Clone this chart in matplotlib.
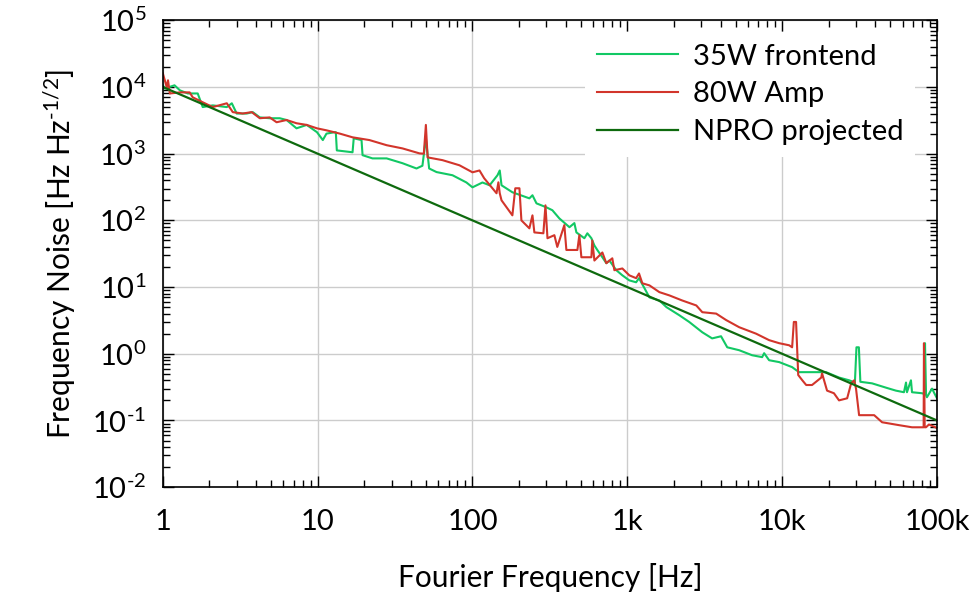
import matplotlib
matplotlib.use("Agg")
import matplotlib.pyplot as plt
from matplotlib.ticker import LogLocator, NullFormatter

# 35W frontend (frequency in Hz, noise in Hz/sqrt(Hz))
frontend_f = [1, 1.03, 1.19, 1.29, 1.45, 1.68, 1.81, 2.10, 2.59, 2.79, 3.0, 3.48, 3.81, 4.23,
              4.90, 5.69, 6.3, 7.3, 8.5, 9.9, 10.8, 11.4, 12.9, 13.1, 13.3, 16.8, 17.1, 19.2,
              19.5, 22.6, 27.9, 35.3, 43.5, 47.5, 50, 52.5, 58.6, 74.3, 91.4, 100, 116, 129,
              145, 150, 154, 181, 233, 244, 259, 300, 328, 364, 423, 455, 469, 528, 552, 586,
              613, 640, 690, 732, 766, 849, 929, 1030, 1140, 1190, 1230, 1390, 1610, 1790,
              2160, 2510, 3050, 3530, 4030, 4420, 5280, 6400, 7430, 7650, 8240, 9570, 11600,
              12300, 12900, 19200, 23300, 27100, 29500, 30200, 31300, 32000, 38100, 46900,
              54300, 61200, 63100, 64000, 67900, 69000, 80000, 82800, 83700, 85000, 86100,
              92900, 100000]
frontend_v = [1.06e4, 9.5e3, 1.06e4, 8.9e3, 8.0e3, 8.0e3, 5.0e3, 5.3e3, 5.0e3, 5.7e3, 4.0e3,
              4.0e3, 4.2e3, 3.5e3, 3.4e3, 3.4e3, 3.2e3, 2.4e3, 2.7e3, 2.1e3, 1.6e3, 2.0e3,
              2.1e3, 2.1e3, 1.12e3, 1.05e3, 1.7e3, 1.6e3, 950, 850, 850, 720, 600, 660, 1700,
              600, 530, 475, 370, 313, 370, 336, 475, 560, 336, 264, 214, 238, 180, 157, 142,
              107, 79, 91, 66, 54, 64, 54, 42, 36, 28, 22.8, 25, 17.9, 15, 12.6, 11.8, 13.6,
              11.8, 7.0, 6.3, 5.0, 3.8, 3.0, 2.1, 1.7, 1.83, 1.25, 1.13, 0.95, 0.89, 1.02,
              0.80, 0.75, 0.63, 0.57, 0.53, 0.53, 0.44, 0.40, 0.37, 1.25, 1.25, 0.38, 0.36,
              0.31, 0.28, 0.265, 0.37, 0.265, 0.40, 0.265, 0.256, 0.25, 1.44, 0.24, 0.223,
              0.30, 0.215]

# 80W amplifier
amp_f = [1, 1.03, 1.06, 1.08, 1.11, 1.29, 1.49, 1.56, 1.81, 2.10, 2.59, 2.83, 3.28, 3.75,
         4.23, 4.90, 5.43, 6.3, 7.3, 8.5, 9.9, 11.4, 13.9, 16.8, 21.6, 27.9, 35.3, 45.5, 48.5,
         50, 51.3, 64, 82.4, 100, 111, 119, 143, 147, 150, 154, 181, 189, 201, 207, 233, 244,
         251, 287, 296, 305, 338, 353, 392, 404, 476, 490, 505, 586, 594, 613, 690, 732, 800,
         825, 929, 1030, 1140, 1190, 1250, 1390, 1610, 1870, 2260, 2790, 3050, 3750, 4350,
         5280, 6790, 8240, 9570, 11100, 11600, 11900, 12300, 12700, 13500, 14300, 15600, 17900,
         18100, 19500, 21600, 23300, 26300, 27900, 29200, 30000, 31400, 39300, 44200, 56900,
         69000, 80000, 82000, 82400, 83300, 84900, 88800, 100000]
amp_v = [1.6e4, 1.26e4, 9.9e3, 1.26e4, 8.0e3, 8.3e3, 8.3e3, 7.0e3, 5.9e3, 5.0e3, 5.7e3, 4.2e3,
         4.0e3, 4.2e3, 3.4e3, 3.5e3, 2.96e3, 3.2e3, 2.86e3, 2.7e3, 2.4e3, 2.24e3, 2.0e3,
         1.76e3, 1.6e3, 1.34e3, 1.2e3, 1.01e3, 1.0e3, 2.7e3, 880, 800, 670, 526, 560, 428, 255,
         372, 255, 200, 119, 303, 303, 100, 76, 119, 66, 64, 168, 54, 60, 40, 85, 36, 36, 60, 28,
         28, 50, 25, 33, 22.8, 27, 17.9, 19, 15, 13.6, 16, 11.4, 10.6, 8.4, 7.5, 6.3, 5.3, 4.2,
         4.0, 3.2, 2.5, 2.0, 1.6, 1.44, 1.34, 1.25, 3.0, 3.0, 0.48, 0.40, 0.34, 0.34, 0.44,
         0.51, 0.28, 0.256, 0.20, 0.215, 0.36, 0.40, 0.30, 0.12, 0.12, 0.094, 0.085, 0.079,
         0.079, 0.079, 1.44, 0.079, 0.079, 0.087, 0.077]

# NPRO projected: straight 1/f line
npro_f = [1, 100000]
npro_v = [1.0e4, 0.1]

x_ticks = [1, 10, 100, 1000, 10000, 100000]
x_labels = ["1", "10", "100", "1k", "10k", "100k"]
y_ticks = [1e-2, 1e-1, 1e0, 1e1, 1e2, 1e3, 1e4, 1e5]
y_exps = ["\u20102", "\u20101", "0", "1", "2", "3", "4", "5"]
y_labels = [r"$\mathregular{10^{%s}}$" % e for e in y_exps]

plt.rcParams["font.family"] = ["Lato", "DejaVu Sans"]
plt.rcParams["mathtext.fontset"] = "custom"
plt.rcParams["mathtext.rm"] = "Lato"
plt.rcParams["axes.unicode_minus"] = False

fig = plt.figure(figsize=(9.75, 5.97), dpi=100)
ax = fig.add_axes([0.167, 0.184, 0.794, 0.782])

ax.plot(frontend_f, frontend_v, color="#12c864", lw=1.5, label="35W frontend")
ax.plot(amp_f, amp_v, color="#d2352b", lw=1.5, label="80W Amp")
ax.plot(npro_f, npro_v, color="#0e6a0e", lw=1.6, label="NPRO projected")

ax.set_xscale("log")
ax.set_yscale("log")
ax.set_xlim(1, 100000)
ax.set_ylim(1e-2, 1e5)

ax.set_xticks(x_ticks, x_labels)
ax.set_yticks(y_ticks, y_labels)
ax.xaxis.set_minor_locator(LogLocator(base=10, subs=range(2, 10), numticks=20))
ax.yaxis.set_minor_locator(LogLocator(base=10, subs=range(2, 10), numticks=20))
ax.xaxis.set_minor_formatter(NullFormatter())
ax.yaxis.set_minor_formatter(NullFormatter())

ax.tick_params(which="both", direction="in", top=True, right=True, width=1, color="black")
ax.tick_params(which="major", length=8, labelsize=21, pad=12)
ax.tick_params(which="minor", length=5)
ax.tick_params(axis="x", which="major", pad=16)

ax.grid(True, which="major", color="#cccccc", lw=1)
ax.set_axisbelow(True)
for s in ax.spines.values():
    s.set_linewidth(1.2)

ax.set_xlabel("Fourier Frequency [Hz]", fontsize=21.5, labelpad=20)
ax.set_ylabel("Frequency Noise [Hz Hz$\\mathregular{^{\u20101/2}}$]", fontsize=21.5, labelpad=10)

leg = ax.legend(loc="upper right", bbox_to_anchor=(0.972, 0.975), fontsize=21,
                handlelength=2.8, handletextpad=0.5, labelspacing=0.4, borderaxespad=0,
                frameon=True, fancybox=False)
leg.get_frame().set_edgecolor("none")
leg.get_frame().set_facecolor("white")
leg.get_frame().set_alpha(1)

fig.savefig("out.png", dpi=100)
